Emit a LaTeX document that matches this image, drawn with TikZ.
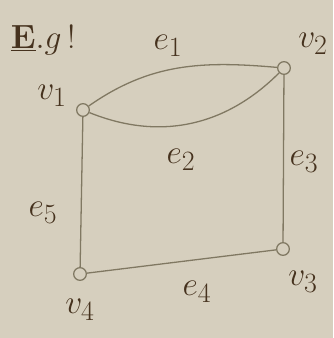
\documentclass[tikz,border=0pt]{standalone}
\usetikzlibrary{positioning}
\definecolor{paper}{RGB}{214,207,190}
\definecolor{pencil}{RGB}{128,120,98}
\definecolor{ink}{RGB}{70,50,30}

\begin{document}
\begin{tikzpicture}[
    x=0.03cm, y=-0.03cm,
    vertex/.style={circle, draw=pencil, line width=1.1pt, inner sep=0pt, minimum size=0.38cm},
    edge/.style={draw=pencil, line width=1.1pt},
    lbl/.style={text=ink, font=\Huge, scale=1.15},
    ]

    % background sheet
    \fill[paper] (0,0) rectangle (333,338);
    \useasboundingbox (0,0) rectangle (333,338);

    % heading
    \node[lbl, anchor=west] (title) at (6,40) {$\underline{\mathbf{E}}.g\,!$};

    % vertices
    \node[vertex] (v1) at (83,110) {};
    \node[vertex] (v2) at (284,68) {};
    \node[vertex] (v3) at (283,249) {};
    \node[vertex] (v4) at (80,274) {};

    % edges
    \draw[edge] (v1) to[out=35, in=175] (v2);
    \draw[edge] (v1) to[out=-22, in=-135] (v2);
    \draw[edge] (v2) -- (v3);
    \draw[edge] (v3) -- (v4);
    \draw[edge] (v4) -- (v1);

    % vertex labels
    \node[lbl] (l1) at (52,96) {$v_1$};
    \node[lbl] (l2) at (313,44) {$v_2$};
    \node[lbl] (l3) at (303,282) {$v_3$};
    \node[lbl] (l4) at (80,310) {$v_4$};

    % edge labels
    \node[lbl] (le1) at (168,46) {$e_1$};
    \node[lbl] (le2) at (181,160) {$e_2$};
    \node[lbl] (le3) at (304,162) {$e_3$};
    \node[lbl] (le4) at (197,292) {$e_4$};
    \node[lbl] (le5) at (43,213) {$e_5$};

\end{tikzpicture}
\end{document}
